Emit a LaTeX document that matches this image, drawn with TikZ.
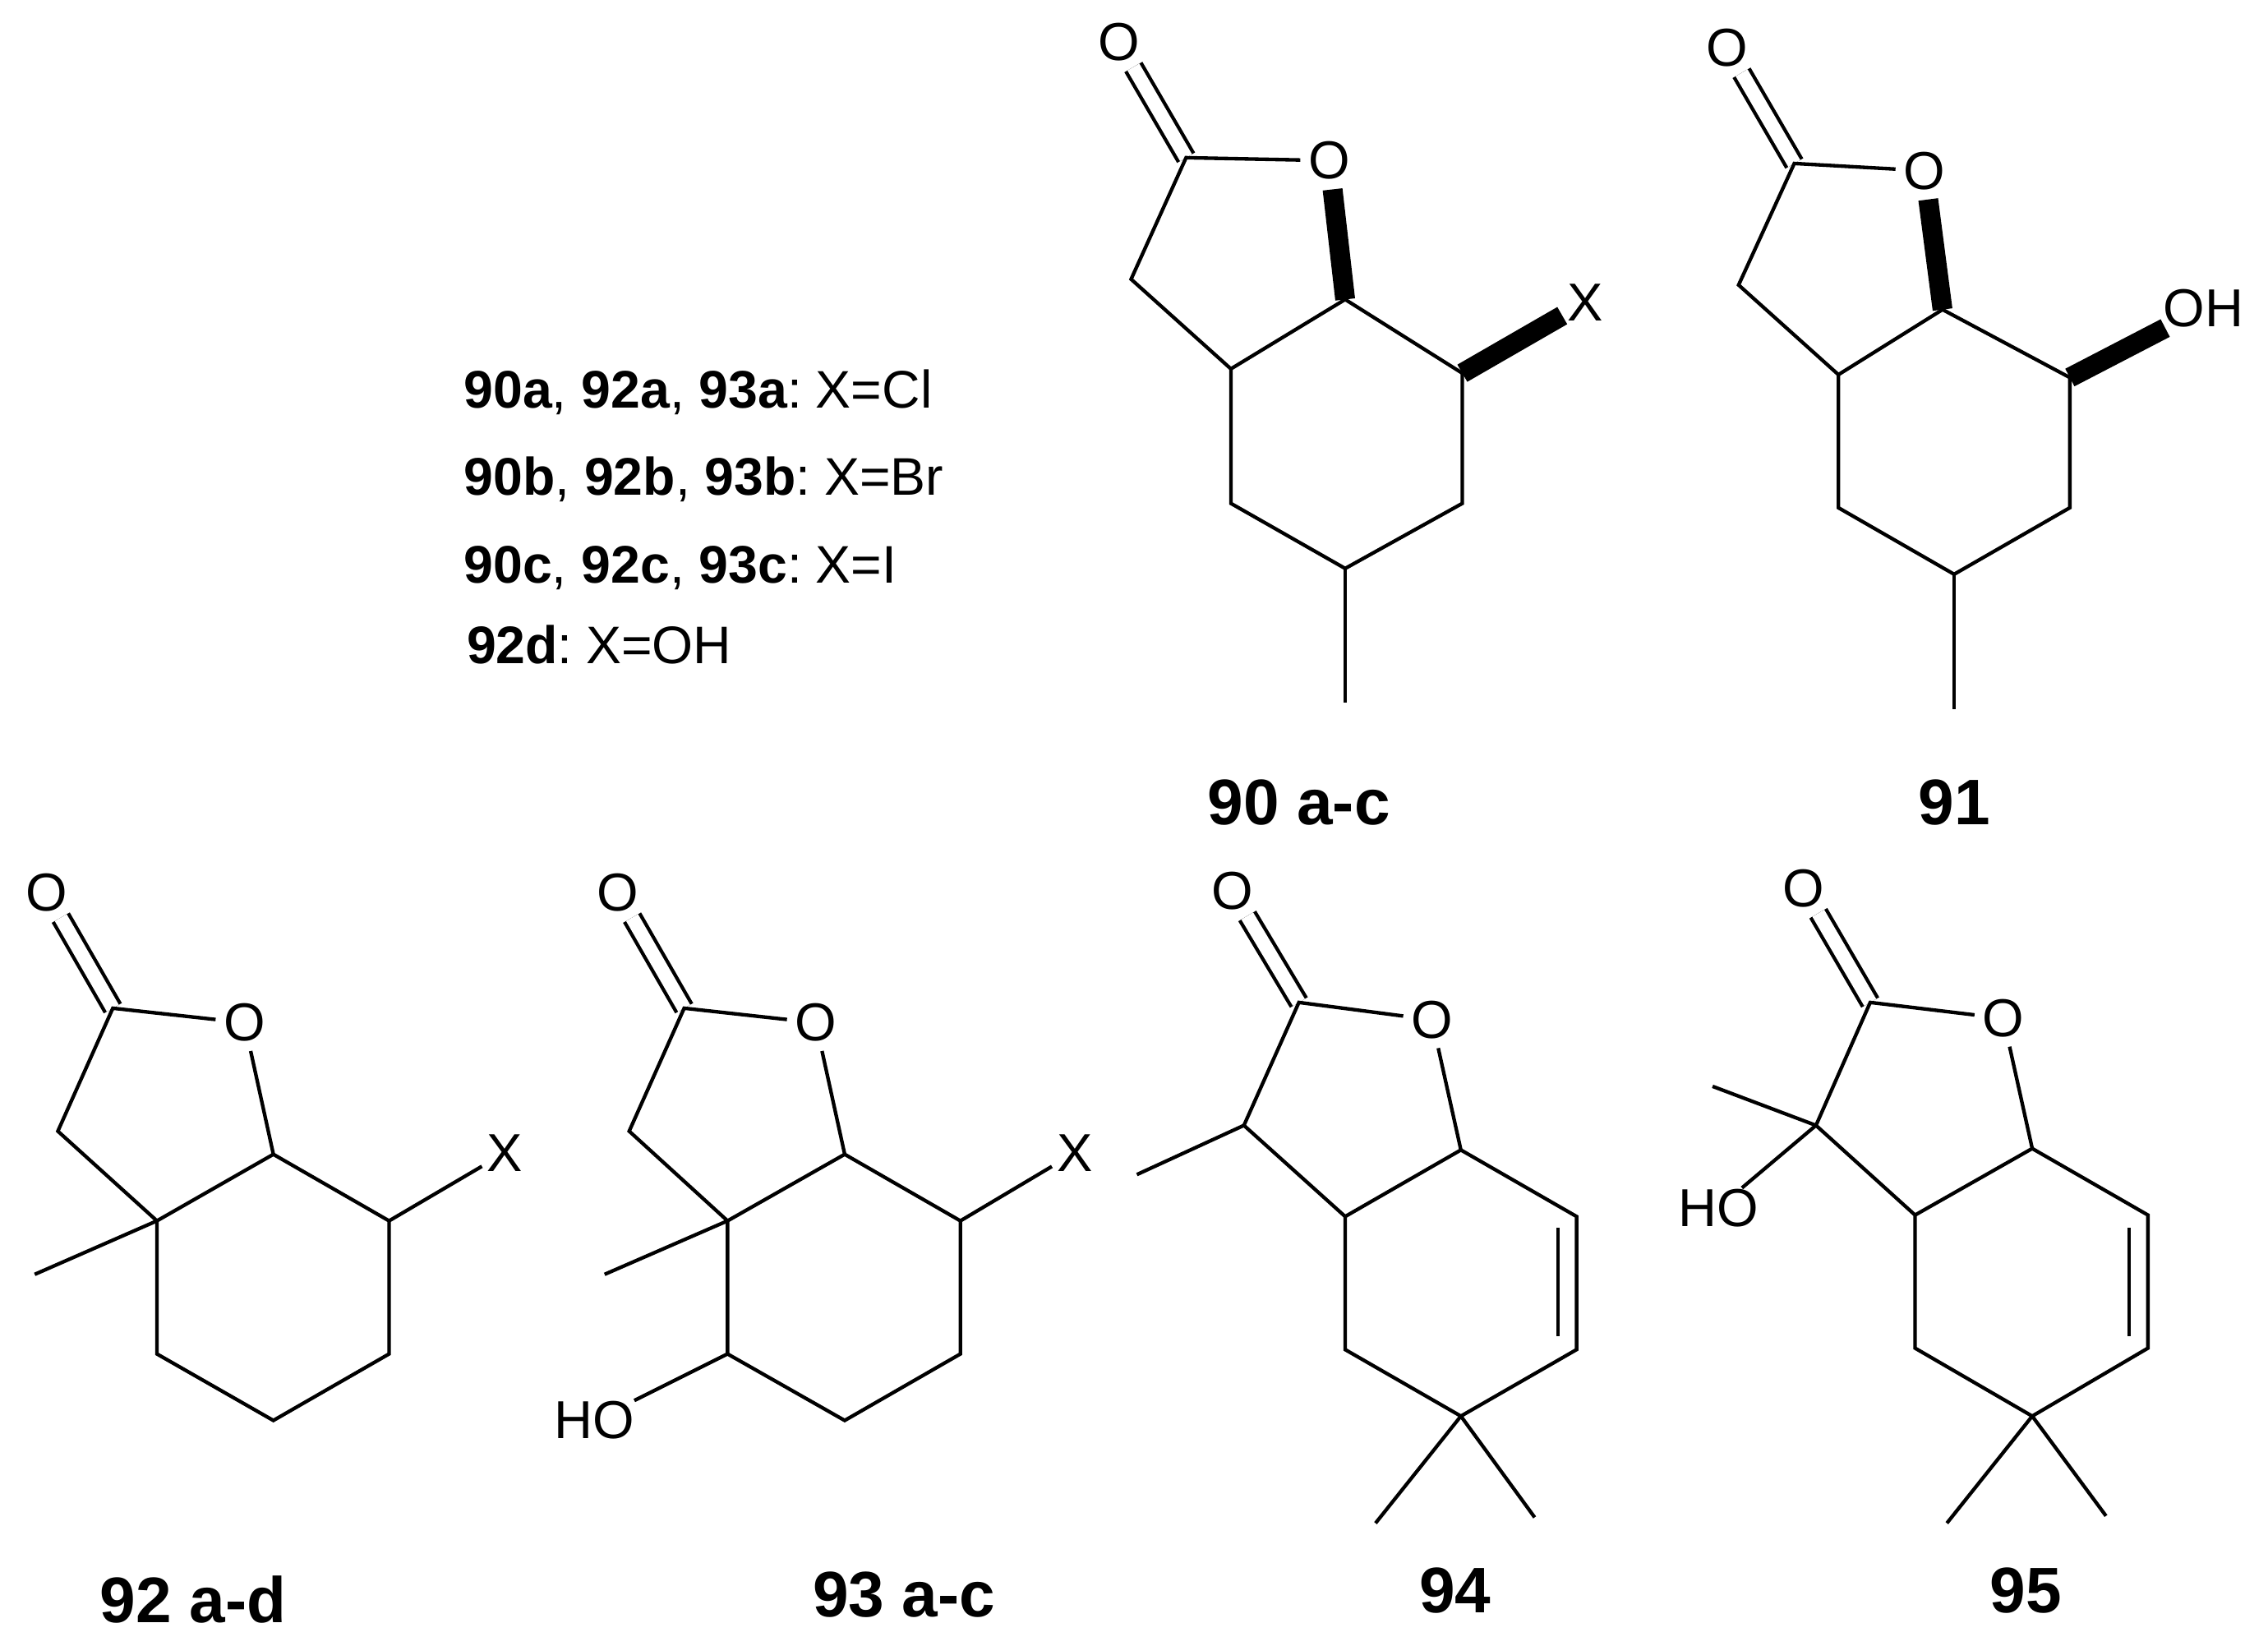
\documentclass[tikz,border=0pt]{standalone}
\usepackage{fontspec}
\setmainfont{Liberation Sans}
\usetikzlibrary{positioning,calc}

\begin{document}
\begin{tikzpicture}[
        x=0.01cm, y=-0.01cm,
        bond/.style={line width=0.7pt, black},
        dbond/.style={bond, double, double distance=2.7pt},
        wedgebond/.style={line width=3.9pt, black},
        atom/.style={circle, inner sep=0pt, font=\fontsize{10.5}{12}\selectfont},
        grouplabel/.style={rectangle, inner sep=0pt, font=\fontsize{10.5}{12}\selectfont},
        legendline/.style={anchor=base west, inner sep=0pt, font=\fontsize{10.4}{12}\selectfont},
        caption/.style={anchor=base, inner sep=0pt, font=\fontsize{12.66}{14}\selectfont\bfseries}
    ]
        \useasboundingbox (0,0) rectangle (1568,1137.4);

        % Legend
        \node[legendline] (lega) at (320,282) {\textbf{90a}, \textbf{92a}, \textbf{93a}:\hspace{-1.2pt} X=Cl};
        \node[legendline] (legb) at (320,342) {\textbf{90b}, \textbf{92b}, \textbf{93b}:\hspace{-1.2pt} X=Br};
        \node[legendline] (legc) at (320,403) {\textbf{90c}, \textbf{92c}, \textbf{93c}:\hspace{-1.2pt} X=I};
        \node[legendline] (legd) at (322,459) {\textbf{92d}:\hspace{-1.2pt} X=OH};

        % 90 a-c
        \node[atom] (aoone) at (773.5,29) {O};
        \node[atom] (aoring) at (919,111) {O};
        \node[atom] (ax) at (1096,209) {X};
        \coordinate (acb) at (820,109);
        \coordinate (acc) at (782,193);
        \coordinate (acd) at (851,255);
        \coordinate (ace) at (930,207);
        \coordinate (acf) at (1011,258);
        \coordinate (acg) at (1011,348);
        \coordinate (ach) at (930,393);
        \coordinate (aci) at (851,348);
        \coordinate (ame) at (930,486);
        \draw[dbond] (acb) -- (aoone);
        \draw[bond] (aoring) -- (acb) -- (acc) -- (acd) -- (ace) -- (acf) -- (acg) -- (ach) -- (aci) -- (acd);
        \draw[bond] (ach) -- (ame);
        \draw[wedgebond] (ace) -- (aoring);
        \draw[wedgebond] (acf) -- (ax);
        \node[caption] (capa) at (898,570) {90 a-c};

        % 91
        \node[atom] (boone) at (1194,33) {O};
        \node[atom] (boring) at (1330.5,118) {O};
        \node[grouplabel] (boh) at (1523.5,213) {OH};
        \coordinate (bcb) at (1240.5,113);
        \coordinate (bcc) at (1202,197);
        \coordinate (bcd) at (1271,259);
        \coordinate (bce) at (1343,214);
        \coordinate (bcf) at (1431,261);
        \coordinate (bcg) at (1431,351);
        \coordinate (bch) at (1351,397);
        \coordinate (bci) at (1271,351);
        \coordinate (bme) at (1351,490);
        \draw[dbond] (bcb) -- (boone);
        \draw[bond] (boring) -- (bcb) -- (bcc) -- (bcd) -- (bce) -- (bcf) -- (bcg) -- (bch) -- (bci) -- (bcd);
        \draw[bond] (bch) -- (bme);
        \draw[wedgebond] (bce) -- (boring);
        \draw[wedgebond] (bcf) -- (boh);
        \node[caption] (capb) at (1351,570) {91};

        % 92 a-d
        \node[atom] (coone) at (32,617) {O};
        \node[atom] (coring) at (169,707) {O};
        \node[atom] (cx) at (349,797) {X};
        \coordinate (ccb) at (78,697);
        \coordinate (ccc) at (40,782);
        \coordinate (ccd) at (108.5,844);
        \coordinate (cce) at (189,798);
        \coordinate (ccf) at (269,844);
        \coordinate (ccg) at (269,936);
        \coordinate (cch) at (189,982);
        \coordinate (cci) at (108.5,936);
        \coordinate (cme) at (24,881);
        \draw[dbond] (ccb) -- (coone);
        \draw[bond] (coring) -- (ccb) -- (ccc) -- (ccd) -- (cce) -- (ccf) -- (ccg) -- (cch) -- (cci) -- (ccd);
        \draw[bond] (coring) -- (cce);
        \draw[bond] (ccf) -- (cx);
        \draw[bond] (ccd) -- (cme);
        \node[caption] (capc) at (133.5,1122) {92 a-d};

        % 93 a-c
        \node[atom] (doone) at (427,617) {O};
        \node[atom] (doring) at (564,707) {O};
        \node[atom] (dx) at (743,797) {X};
        \node[grouplabel] (dho) at (411,982) {HO};
        \coordinate (dcb) at (473,697);
        \coordinate (dcc) at (435,782);
        \coordinate (dcd) at (503,844);
        \coordinate (dce) at (584,798);
        \coordinate (dcf) at (664,844);
        \coordinate (dcg) at (664,936);
        \coordinate (dch) at (584,982);
        \coordinate (dci) at (503,936);
        \coordinate (dme) at (418,881);
        \draw[dbond] (dcb) -- (doone);
        \draw[bond] (doring) -- (dcb) -- (dcc) -- (dcd) -- (dce) -- (dcf) -- (dcg) -- (dch) -- (dci) -- (dcd);
        \draw[bond] (doring) -- (dce);
        \draw[bond] (dcf) -- (dx);
        \draw[bond] (dcd) -- (dme);
        \draw[bond] (dci) -- (dho);
        \node[caption] (capd) at (625,1118) {93 a-c};

        % 94
        \node[atom] (eoone) at (852,616) {O};
        \node[atom] (eoring) at (990,705) {O};
        \coordinate (ecb) at (898,693);
        \coordinate (ecc) at (860,778);
        \coordinate (ecd) at (930,841);
        \coordinate (ece) at (1010,795);
        \coordinate (ecf) at (1090,841);
        \coordinate (ecg) at (1090,933);
        \coordinate (ech) at (1010,979);
        \coordinate (eci) at (930,933);
        \coordinate (eme) at (786,812);
        \coordinate (emea) at (951,1053);
        \coordinate (emeb) at (1061,1049);
        \coordinate (einna) at (1077,849);
        \coordinate (einnb) at (1077,924);
        \draw[dbond] (ecb) -- (eoone);
        \draw[bond] (eoring) -- (ecb) -- (ecc) -- (ecd) -- (ece) -- (ecf) -- (ecg) -- (ech) -- (eci) -- (ecd);
        \draw[bond] (eoring) -- (ece);
        \draw[bond] (ecc) -- (eme);
        \draw[bond] (ech) -- (emea);
        \draw[bond] (ech) -- (emeb);
        \draw[bond] (einna) -- (einnb);
        \node[caption] (cape) at (1006,1115) {94};

        % 95
        \node[atom] (foone) at (1247,614) {O};
        \node[atom] (foring) at (1385,704) {O};
        \node[grouplabel] (fho) at (1188,835) {HO};
        \coordinate (fcb) at (1293,693);
        \coordinate (fcc) at (1255.5,778);
        \coordinate (fcd) at (1324,840);
        \coordinate (fce) at (1405,794);
        \coordinate (fcf) at (1485,840);
        \coordinate (fcg) at (1485,932);
        \coordinate (fch) at (1405,979);
        \coordinate (fci) at (1324,932);
        \coordinate (fme) at (1184,751);
        \coordinate (fmea) at (1346,1053);
        \coordinate (fmeb) at (1456,1048);
        \coordinate (finna) at (1472,849);
        \coordinate (finnb) at (1472,924);
        \draw[dbond] (fcb) -- (foone);
        \draw[bond] (foring) -- (fcb) -- (fcc) -- (fcd) -- (fce) -- (fcf) -- (fcg) -- (fch) -- (fci) -- (fcd);
        \draw[bond] (foring) -- (fce);
        \draw[bond] (fcc) -- (fme);
        \draw[bond] (fcc) -- (fho);
        \draw[bond] (fch) -- (fmea);
        \draw[bond] (fch) -- (fmeb);
        \draw[bond] (finna) -- (finnb);
        \node[caption] (capf) at (1400.5,1115) {95};
    \end{tikzpicture}
\end{document}
